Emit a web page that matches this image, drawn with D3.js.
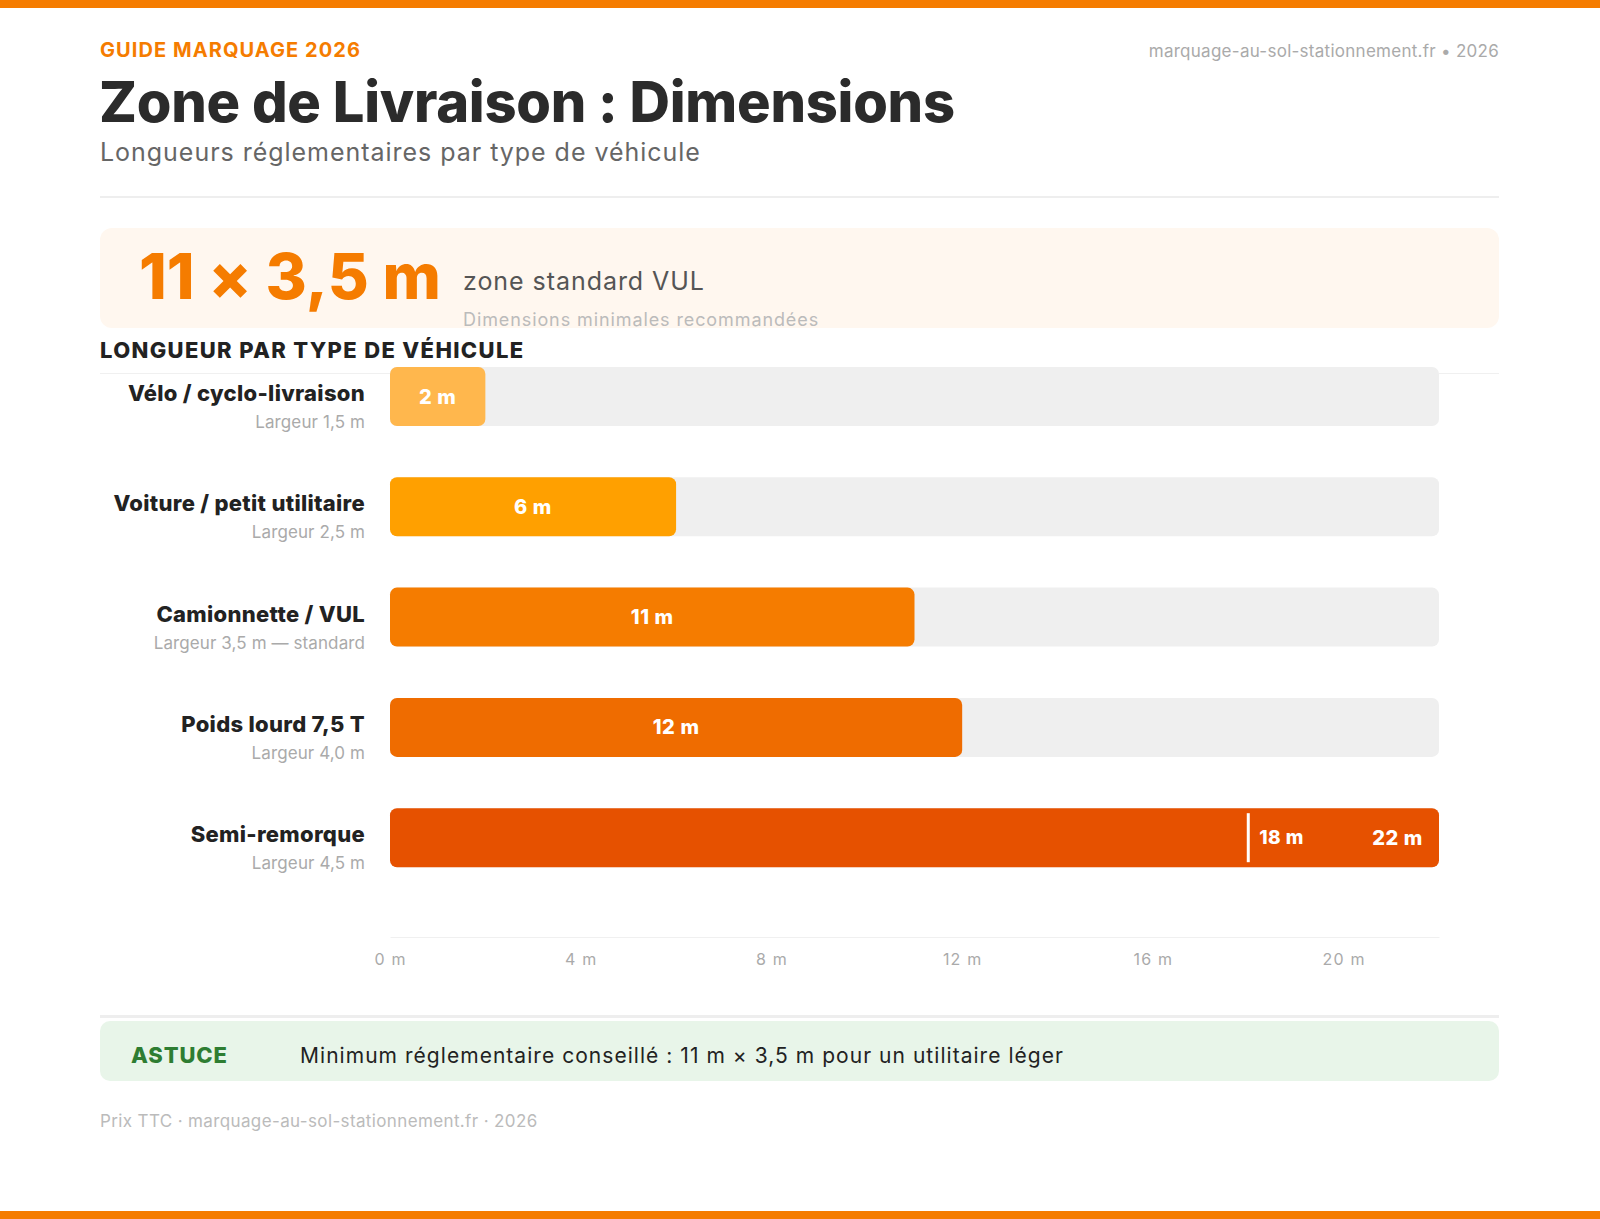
<!DOCTYPE html>
<html><head><meta charset="utf-8">
<script src="https://cdn.jsdelivr.net/npm/d3@7/dist/d3.min.js"></script>
<style>
html,body{margin:0;padding:0;background:#fff;}
svg{display:block;font-family:Inter,"Noto Sans",sans-serif;}
</style></head>
<body>
<svg id="chart" width="1600" height="1219"></svg>
<script>
const categories = ["Vélo / cyclo-livraison", "Voiture / petit utilitaire", "Camionnette / VUL", "Poids lourd 7,5 T", "Semi-remorque"];
const widthLabels = ["Largeur 1,5 m", "Largeur 2,5 m", "Largeur 3,5 m — standard", "Largeur 4,0 m", "Largeur 4,5 m"];
const lengths = [2, 6, 11, 12, 22];
const minLengths = [null, null, null, null, 18];
const barColors = ["#FFB74D", "#FFA000", "#F57C00", "#EF6C00", "#E65100"];
const tickValues = [0, 4, 8, 12, 16, 20];
const xMax = 22;

const svg = d3.select("#chart");
const W = 1600, H = 1219;
const orange = "#F57C00";

// stretch a text to a target width through letter-spacing
function fit(sel, target) {
  const node = sel.node();
  const n = node.textContent.length;
  const w = node.getComputedTextLength();
  sel.attr("letter-spacing", ((target - w) / Math.max(1, n - 1)).toFixed(2));
  return sel;
}

// top / bottom bands
svg.append("rect").attr("x",0).attr("y",0).attr("width",W).attr("height",8).attr("fill",orange);
svg.append("rect").attr("x",0).attr("y",H-8).attr("width",W).attr("height",8).attr("fill",orange);

// header
fit(svg.append("text").attr("x",100).attr("y",57).text("GUIDE MARQUAGE 2026")
  .attr("fill",orange).attr("font-size",20).attr("font-weight",700), 260);
fit(svg.append("text").attr("x",1499).attr("y",57).attr("text-anchor","end").text("marquage-au-sol-stationnement.fr • 2026")
  .attr("fill","#aaa").attr("font-size",17), 350);
fit(svg.append("text").attr("x",99).attr("y",122).text("Zone de Livraison : Dimensions")
  .attr("fill","#2b2b2b").attr("font-size",56).attr("font-weight",800), 856);
fit(svg.append("text").attr("x",100).attr("y",161).text("Longueurs réglementaires par type de véhicule")
  .attr("fill","#666").attr("font-size",25).attr("font-weight",400), 600);
svg.append("rect").attr("x",100).attr("y",196).attr("width",1399).attr("height",2).attr("fill","#eeeeee");

// highlight box
svg.append("rect").attr("x",100).attr("y",228).attr("width",1399).attr("height",100).attr("rx",12).attr("fill","#FFF7EF");
fit(svg.append("text").attr("x",139).attr("y",299).text("11 × 3,5 m")
  .attr("fill",orange).attr("font-size",63).attr("font-weight",800), 302);
fit(svg.append("text").attr("x",463).attr("y",290).text("zone standard VUL")
  .attr("fill","#555").attr("font-size",25), 241);
fit(svg.append("text").attr("x",463).attr("y",326).text("Dimensions minimales recommandées")
  .attr("fill","#bbb").attr("font-size",18), 355);

// section title
fit(svg.append("text").attr("x",100).attr("y",358).text("LONGUEUR PAR TYPE DE VÉHICULE")
  .attr("fill","#222").attr("font-size",22).attr("font-weight",800), 423);
svg.append("rect").attr("x",100).attr("y",373).attr("width",1399).attr("height",1).attr("fill","#f0f0f0");

// scales
const x = d3.scaleLinear().domain([0, xMax]).range([390, 1439]);
const y = d3.scaleBand().domain(categories).range([367, 867.2]).paddingInner(0.465).paddingOuter(0);
const bh = y.bandwidth();

const rows = svg.append("g").selectAll("g").data(categories).join("g")
  .attr("transform", d => `translate(0,${y(d)})`);

rows.append("rect").attr("x", x(0)).attr("y",0).attr("width", x(xMax)-x(0)).attr("height", bh)
  .attr("rx",7).attr("fill","#efefef");
rows.append("rect").attr("x", x(0)).attr("y",0).attr("width",(d,i)=> x(lengths[i])-x(0)).attr("height", bh)
  .attr("rx",7).attr("fill",(d,i)=>barColors[i]);

rows.append("text").attr("x",365).attr("y",34).attr("text-anchor","end").text(d=>d)
  .attr("fill","#222").attr("font-size",22).attr("font-weight",800).attr("letter-spacing","0.3");
rows.append("text").attr("x",365).attr("y",61).attr("text-anchor","end").text((d,i)=>widthLabels[i])
  .attr("fill","#aaa").attr("font-size",17).attr("letter-spacing","0.1");

// value labels
rows.each(function(d,i){
  const g = d3.select(this);
  if (minLengths[i] == null) {
    g.append("text").attr("x",(x(0)+x(lengths[i]))/2).attr("y",bh/2).attr("dy","0.35em")
      .attr("text-anchor","middle").text(lengths[i]+" m")
      .attr("fill","#fff").attr("font-size",20).attr("font-weight",800).attr("letter-spacing","0.6");
  } else {
    g.append("rect").attr("x",x(minLengths[i])-1.5).attr("y",5).attr("width",3).attr("height",bh-10).attr("fill","#fff");
    g.append("text").attr("x",x(minLengths[i])+11).attr("y",bh/2).attr("dy","0.35em")
      .text(minLengths[i]+" m").attr("fill","#fff").attr("font-size",19).attr("font-weight",800).attr("letter-spacing","0.4");
    g.append("text").attr("x",x(lengths[i])-16).attr("y",bh/2).attr("dy","0.35em").attr("text-anchor","end")
      .text(lengths[i]+" m").attr("fill","#fff").attr("font-size",20).attr("font-weight",800).attr("letter-spacing","0.6");
  }
});

// axis
const axis = d3.axisBottom(x).tickValues(tickValues).tickFormat(d=>d+" m").tickSize(0).tickSizeOuter(0).tickPadding(17);
const ag = svg.append("g").attr("transform","translate(0,937)").call(axis);
ag.select(".domain").attr("stroke","#f0f0f0").attr("stroke-width",1);
ag.selectAll("text").attr("fill","#aaa").attr("font-size",16).attr("font-family","Inter, sans-serif").attr("letter-spacing","1.2");

// tip box
svg.append("rect").attr("x",100).attr("y",1015).attr("width",1399).attr("height",3).attr("fill","#eeeeee");
svg.append("rect").attr("x",100).attr("y",1021).attr("width",1399).attr("height",60).attr("rx",10).attr("fill","#E8F5E9");
fit(svg.append("text").attr("x",131).attr("y",1063).text("ASTUCE")
  .attr("fill","#2E7D32").attr("font-size",22).attr("font-weight",800), 96);
fit(svg.append("text").attr("x",300).attr("y",1063).text("Minimum réglementaire conseillé : 11 m × 3,5 m pour un utilitaire léger")
  .attr("fill","#222").attr("font-size",21), 763);

// footer
fit(svg.append("text").attr("x",100).attr("y",1127).text("Prix TTC · marquage-au-sol-stationnement.fr · 2026")
  .attr("fill","#bbb").attr("font-size",17), 437);
</script>
</body></html>
